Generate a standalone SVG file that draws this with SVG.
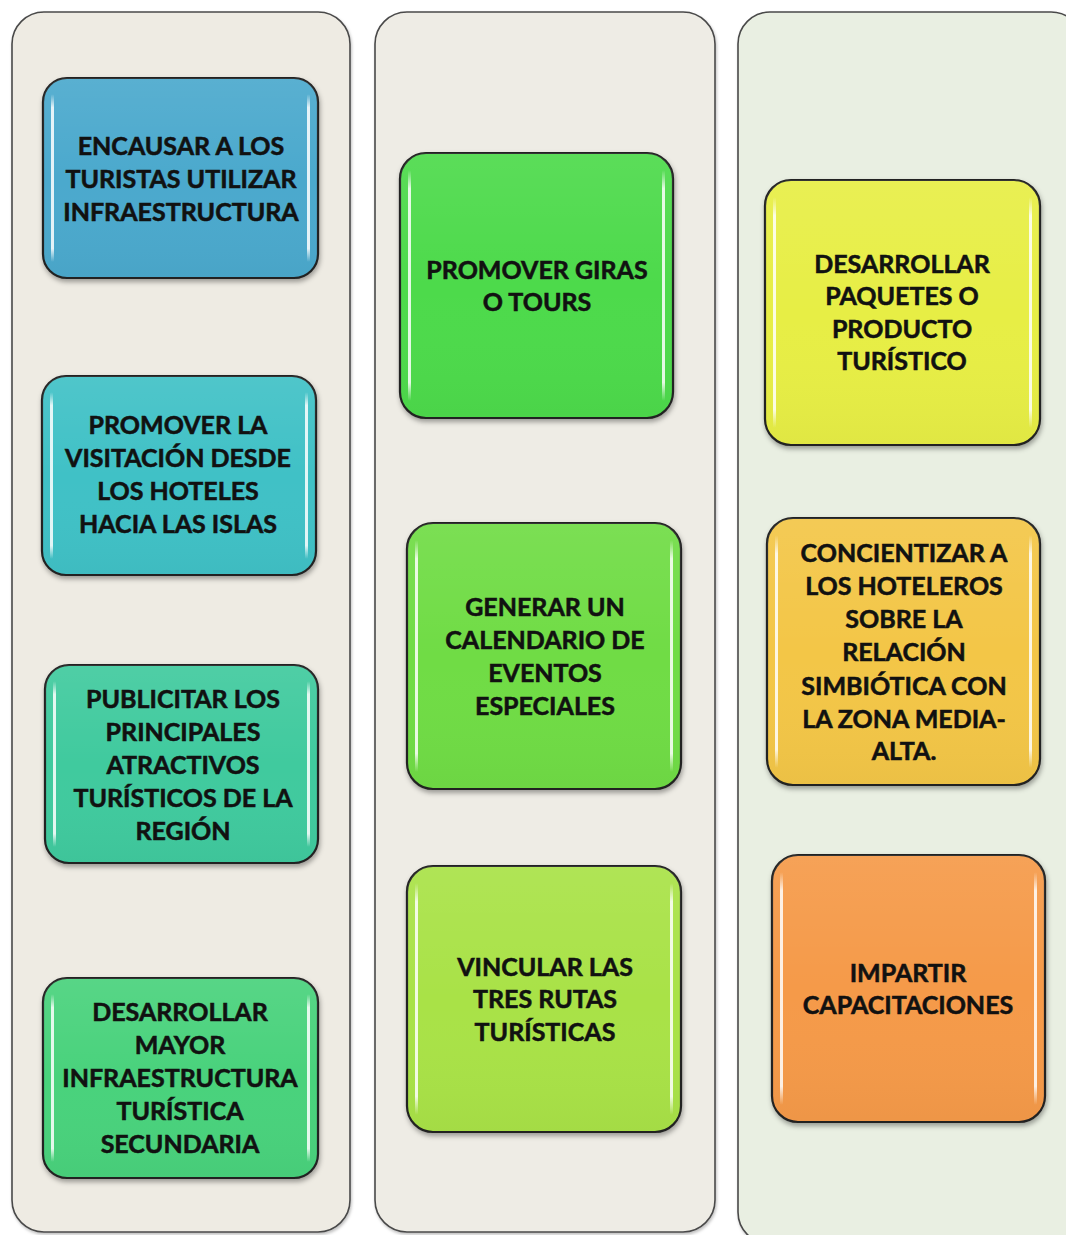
<svg xmlns="http://www.w3.org/2000/svg" width="1066" height="1235" viewBox="0 0 1066 1235">
<defs>
<style>
.panel{stroke:#4a4a4a;stroke-width:1.6}
.box{stroke:#222;stroke-width:2.2}
.t{font-family:Lato,"Open Sans","Liberation Sans",sans-serif;font-weight:700;font-size:25px;fill:#111;stroke:#111;stroke-width:0.55;text-anchor:middle}
.hl{fill:url(#hlg)}
</style>
<linearGradient id="hlg" x1="0" y1="0" x2="0" y2="1">
<stop offset="0" stop-color="#fff" stop-opacity="0"/>
<stop offset="0.08" stop-color="#fff" stop-opacity="0.85"/>
<stop offset="0.92" stop-color="#fff" stop-opacity="0.85"/>
<stop offset="1" stop-color="#fff" stop-opacity="0"/>
</linearGradient>
<linearGradient id="sheen" x1="0" y1="0" x2="0" y2="1">
<stop offset="0" stop-color="#fff" stop-opacity="0.08"/>
<stop offset="0.5" stop-color="#fff" stop-opacity="0"/>
<stop offset="1" stop-color="#000" stop-opacity="0.03"/>
</linearGradient>
<filter id="sh" x="-10%" y="-10%" width="120%" height="125%">
<feDropShadow dx="1" dy="3" stdDeviation="2.5" flood-color="#000" flood-opacity="0.35"/>
</filter>
<filter id="psh" x="-5%" y="-5%" width="110%" height="110%">
<feDropShadow dx="1" dy="2" stdDeviation="1.5" flood-color="#000" flood-opacity="0.25"/>
</filter>
</defs>
<rect width="1066" height="1235" fill="#ffffff"/>

<g id="panels">
<rect id="panel-left" class="panel" x="12" y="12" width="338" height="1220" rx="32" fill="#EEEBE3" filter="url(#psh)"/>
<rect id="panel-middle" class="panel" x="375" y="12" width="340" height="1220" rx="32" fill="#EEECE5" filter="url(#psh)"/>
<rect id="panel-right" class="panel" x="738" y="12" width="345" height="1232" rx="32" fill="#E9EFE2" filter="url(#psh)"/>
</g>

<g id="connectors"></g>

<!-- Left column -->
<g id="node-l1">
<rect class="box" x="43" y="78" width="275" height="200" rx="24" fill="#4BA9CD" filter="url(#sh)"/>
<rect x="43" y="78" width="275" height="200" rx="24" fill="url(#sheen)"/>
<rect class="hl" x="51" y="94" width="3" height="168" rx="1.5"/>
<rect class="hl" x="307" y="94" width="3" height="168" rx="1.5"/>
<text class="t" x="181" y="155">ENCAUSAR A LOS</text>
<text class="t" x="181" y="188">TURISTAS UTILIZAR</text>
<text class="t" x="181" y="221">INFRAESTRUCTURA</text>
</g>

<g id="node-l2">
<rect class="box" x="42" y="376" width="274" height="199" rx="24" fill="#41C1C6" filter="url(#sh)"/>
<rect x="42" y="376" width="274" height="199" rx="24" fill="url(#sheen)"/>
<rect class="hl" x="50" y="392" width="3" height="167" rx="1.5"/>
<rect class="hl" x="305" y="392" width="3" height="167" rx="1.5"/>
<text class="t" x="178" y="434">PROMOVER LA</text>
<text class="t" x="178" y="467">VISITACIÓN DESDE</text>
<text class="t" x="178" y="500">LOS HOTELES</text>
<text class="t" x="178" y="533">HACIA LAS ISLAS</text>
</g>

<g id="node-l3">
<rect class="box" x="45" y="665" width="273" height="198" rx="24" fill="#3FCA9E" filter="url(#sh)"/>
<rect x="45" y="665" width="273" height="198" rx="24" fill="url(#sheen)"/>
<rect class="hl" x="53" y="681" width="3" height="166" rx="1.5"/>
<rect class="hl" x="307" y="681" width="3" height="166" rx="1.5"/>
<text class="t" x="183" y="708">PUBLICITAR LOS</text>
<text class="t" x="183" y="741">PRINCIPALES</text>
<text class="t" x="183" y="774">ATRACTIVOS</text>
<text class="t" x="183" y="807">TURÍSTICOS DE LA</text>
<text class="t" x="183" y="840">REGIÓN</text>
</g>

<g id="node-l4">
<rect class="box" x="43" y="978" width="275" height="200" rx="24" fill="#48D27C" filter="url(#sh)"/>
<rect x="43" y="978" width="275" height="200" rx="24" fill="url(#sheen)"/>
<rect class="hl" x="51" y="994" width="3" height="168" rx="1.5"/>
<rect class="hl" x="307" y="994" width="3" height="168" rx="1.5"/>
<text class="t" x="180" y="1021">DESARROLLAR</text>
<text class="t" x="180" y="1054">MAYOR</text>
<text class="t" x="180" y="1087">INFRAESTRUCTURA</text>
<text class="t" x="180" y="1120">TURÍSTICA</text>
<text class="t" x="180" y="1153">SECUNDARIA</text>
</g>

<!-- Middle column -->
<g id="node-m1">
<rect class="box" x="400" y="153" width="273" height="265" rx="26" fill="#4DDA4B" filter="url(#sh)"/>
<rect x="400" y="153" width="273" height="265" rx="26" fill="url(#sheen)"/>
<rect class="hl" x="408" y="170" width="3" height="231" rx="1.5"/>
<rect class="hl" x="662" y="170" width="3" height="231" rx="1.5"/>
<text class="t" x="537" y="279">PROMOVER GIRAS</text>
<text class="t" x="537" y="311">O TOURS</text>
</g>

<g id="node-m2">
<rect class="box" x="407" y="523" width="274" height="266" rx="26" fill="#6FDC44" filter="url(#sh)"/>
<rect x="407" y="523" width="274" height="266" rx="26" fill="url(#sheen)"/>
<rect class="hl" x="415" y="540" width="3" height="232" rx="1.5"/>
<rect class="hl" x="670" y="540" width="3" height="232" rx="1.5"/>
<text class="t" x="545" y="616">GENERAR UN</text>
<text class="t" x="545" y="649">CALENDARIO DE</text>
<text class="t" x="545" y="682">EVENTOS</text>
<text class="t" x="545" y="715">ESPECIALES</text>
</g>

<g id="node-m3">
<rect class="box" x="407" y="866" width="274" height="266" rx="26" fill="#A9E247" filter="url(#sh)"/>
<rect x="407" y="866" width="274" height="266" rx="26" fill="url(#sheen)"/>
<rect class="hl" x="415" y="883" width="3" height="232" rx="1.5"/>
<rect class="hl" x="670" y="883" width="3" height="232" rx="1.5"/>
<text class="t" x="545" y="976">VINCULAR LAS</text>
<text class="t" x="545" y="1008">TRES RUTAS</text>
<text class="t" x="545" y="1041">TURÍSTICAS</text>
</g>

<!-- Right column -->
<g id="node-r1">
<rect class="box" x="765" y="180" width="275" height="265" rx="26" fill="#E7EE45" filter="url(#sh)"/>
<rect x="765" y="180" width="275" height="265" rx="26" fill="url(#sheen)"/>
<rect class="hl" x="773" y="197" width="3" height="231" rx="1.5"/>
<rect class="hl" x="1029" y="197" width="3" height="231" rx="1.5"/>
<text class="t" x="902" y="273">DESARROLLAR</text>
<text class="t" x="902" y="305">PAQUETES O</text>
<text class="t" x="902" y="338">PRODUCTO</text>
<text class="t" x="902" y="370">TURÍSTICO</text>
</g>

<g id="node-r2">
<rect class="box" x="767" y="518" width="273" height="267" rx="26" fill="#F3C646" filter="url(#sh)"/>
<rect x="767" y="518" width="273" height="267" rx="26" fill="url(#sheen)"/>
<rect class="hl" x="775" y="535" width="3" height="233" rx="1.5"/>
<rect class="hl" x="1029" y="535" width="3" height="233" rx="1.5"/>
<text class="t" x="904" y="562">CONCIENTIZAR A</text>
<text class="t" x="904" y="595">LOS HOTELEROS</text>
<text class="t" x="904" y="628">SOBRE LA</text>
<text class="t" x="904" y="661">RELACIÓN</text>
<text class="t" x="904" y="695">SIMBIÓTICA CON</text>
<text class="t" x="904" y="728">LA ZONA MEDIA-</text>
<text class="t" x="904" y="760">ALTA.</text>
</g>

<g id="node-r3">
<rect class="box" x="772" y="855" width="273" height="267" rx="26" fill="#F59A4A" filter="url(#sh)"/>
<rect x="772" y="855" width="273" height="267" rx="26" fill="url(#sheen)"/>
<rect class="hl" x="780" y="872" width="3" height="233" rx="1.5"/>
<rect class="hl" x="1034" y="872" width="3" height="233" rx="1.5"/>
<text class="t" x="908" y="982">IMPARTIR</text>
<text class="t" x="908" y="1014">CAPACITACIONES</text>
</g>
</svg>
